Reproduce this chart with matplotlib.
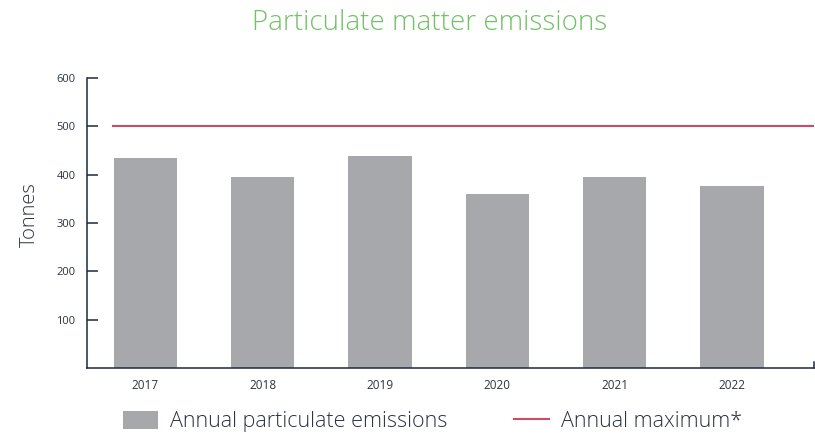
import numpy as np
import matplotlib
matplotlib.use("Agg")
import matplotlib.pyplot as plt

# data
years = ["2017", "2018", "2019", "2020", "2021", "2022"]
emissions = [435, 395, 439, 360, 395, 377]
annual_max = 500
y_ticks = [100, 200, 300, 400, 500, 600]

bar_col = "#a7a8ab"
line_col = "#d04a68"
axis_col = "#1f2a38"
text_col = "#2b3440"

plt.rcParams['font.family'] = ['Open Sans', 'DejaVu Sans']

fig = plt.figure(figsize=(8.15, 4.37), dpi=100)
ax = fig.add_axes([0.1064, 0.158, 0.8924, 0.6635])

x = np.arange(len(years))
bars = ax.bar(x, emissions, width=0.54, color=bar_col, zorder=2,
              label="Annual particulate emissions")
ln, = ax.plot([-0.28, 5.69], [annual_max, annual_max], color=line_col, lw=1.5,
              label="Annual maximum*", zorder=3)

ax.set_xlim(-0.5, 5.7)
ax.set_ylim(0, 600)
ax.set_xticks(x)
ax.set_xticklabels(years, fontsize=8.5, color=text_col)
ax.set_yticks(y_ticks)
ax.set_yticklabels([str(t) for t in y_ticks], fontsize=8, color=text_col)
ax.tick_params(axis='y', direction='in', length=8, width=1.1, color=axis_col, pad=8)
ax.tick_params(axis='x', length=0, pad=8)

ax.spines['top'].set_visible(False)
ax.spines['right'].set_bounds(0, 12)
for s in ['left', 'bottom', 'right']:
    ax.spines[s].set_color(axis_col)
    ax.spines[s].set_linewidth(1.1)

ax.set_ylabel("Tonnes", fontsize=14.5, color=text_col, fontweight='light')
ax.yaxis.set_label_coords(-0.064, 0.53)

fig.text(0.527, 0.948, "Particulate matter emissions", ha='center', va='center',
         fontsize=20, color="#72c167", fontweight='light')

fig.legend(handles=[bars, ln], loc='center', bbox_to_anchor=(0.531, 0.035), ncol=2,
           frameon=False, handlelength=1.6, handleheight=0.9,
           columnspacing=3.1, handletextpad=0.58, labelcolor=text_col,
           prop={'size': 15.5, 'weight': 'light'})

fig.savefig("out.png", dpi=100)
